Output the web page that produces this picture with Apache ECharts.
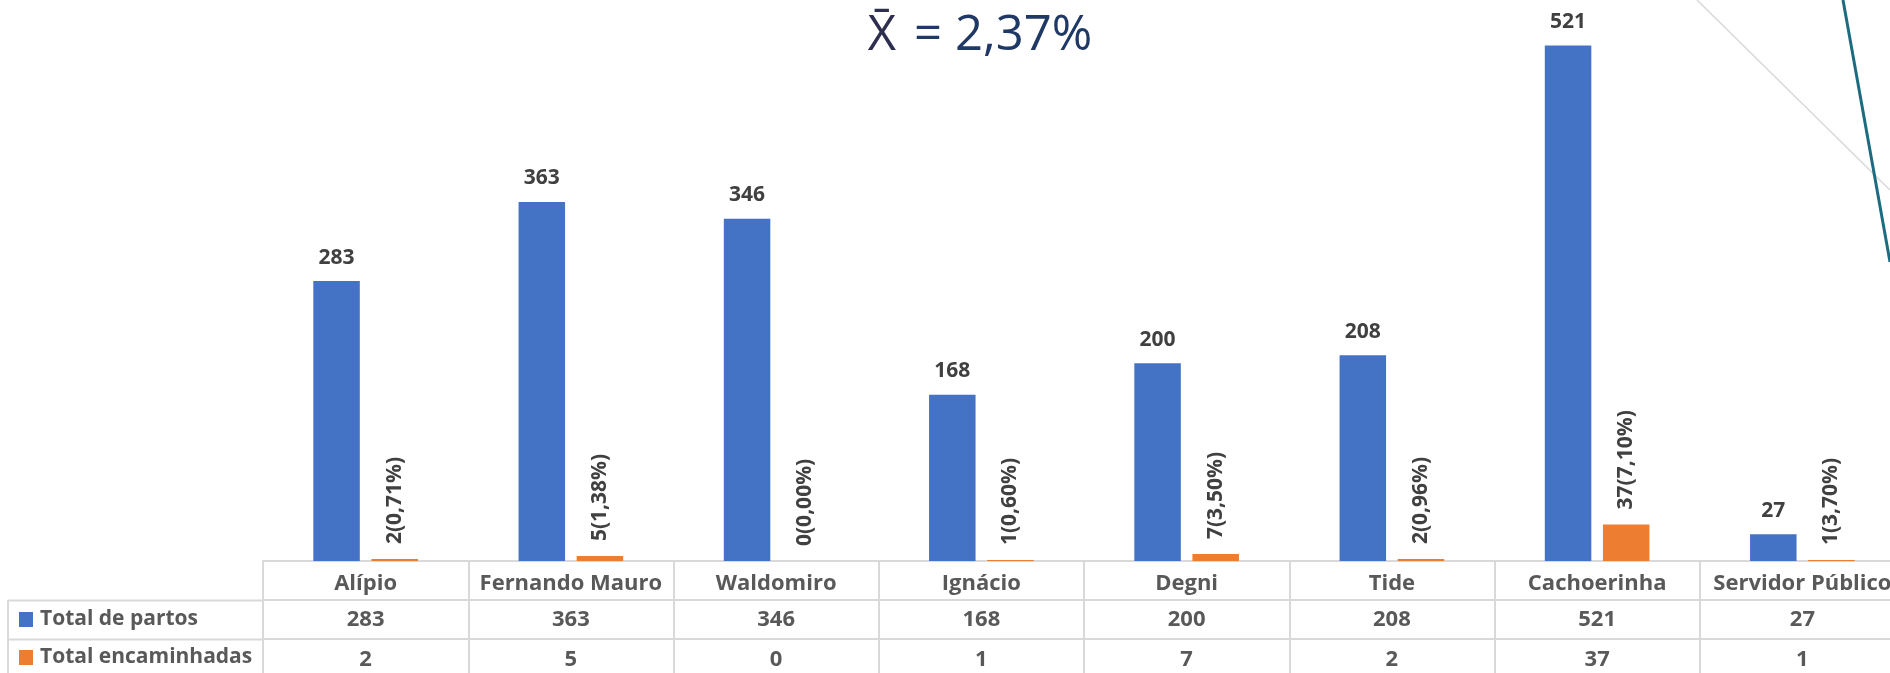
<!DOCTYPE html>
<html>
<head>
<meta charset="utf-8">
<script src="https://cdn.jsdelivr.net/npm/echarts@6/dist/echarts.min.js"></script>
<style>
html,body{margin:0;padding:0;background:#fff;overflow:hidden;width:1890px;height:673px;}
#main{width:1920px;height:673px;}
</style>
</head>
<body>
<div id="main"></div>
<script>
// ---- data ----
const categories = ['Alípio', 'Fernando Mauro', 'Waldomiro', 'Ignácio', 'Degni', 'Tide', 'Cachoerinha', 'Servidor Público'];
const totalPartos = [283, 363, 346, 168, 200, 208, 521, 27];
const totalEncaminhadas = [2, 5, 0, 1, 7, 2, 37, 1];
const percentEncaminhadas = ['0,71%', '1,38%', '0,00%', '0,60%', '3,50%', '0,96%', '7,10%', '3,70%'];
const seriesNames = ['Total de partos', 'Total encaminhadas'];
const meanText = '2,37%';

const FONT = '"Open Sans", "Liberation Sans", sans-serif';
const GRID_LINE = '#d9d9d9';
const TABLE_TEXT = '#595959';

const chart = echarts.init(document.getElementById('main'), null, {renderer: 'canvas'});

function rowAxis(offset, values, margin) {
  return {
    type: 'category',
    data: categories,
    position: 'bottom',
    offset: offset,
    axisLine: {show: true, lineStyle: {color: GRID_LINE, width: 2}},
    axisTick: {show: false},
    axisLabel: {
      interval: 0,
      margin: margin,
      fontFamily: FONT,
      fontSize: 22,
      fontWeight: 'bold',
      color: TABLE_TEXT,
      formatter: function (v, i) { return String(values[i]); }
    }
  };
}

function legendRow(name, top) {
  return {
    data: [name],
    orient: 'vertical',
    left: 19,
    top: top,
    padding: 0,
    icon: 'rect',
    itemWidth: 14,
    itemHeight: 15,
    selectedMode: false,
    textStyle: {fontFamily: FONT, fontSize: 21, fontWeight: 'bold', color: TABLE_TEXT, lineHeight: 21, padding: [0, 0, 0, 2]}
  };
}

const option = {
  backgroundColor: '#ffffff',
  animation: false,
  title: {
    text: '{m|X\u0304}{e|=}{t|' + meanText + '}',
    left: 975,
    top: 7,
    textAlign: 'center',
    textStyle: {
      rich: {
        m: {fontFamily: FONT, fontWeight: 'normal', fontSize: 49, color: '#2e2e50', padding: [0, 18, 0, 0]},
        e: {fontFamily: FONT, fontWeight: 'normal', fontSize: 49, color: '#1f3864', padding: [0, 13, 0, 0]},
        t: {fontFamily: FONT, fontWeight: 'normal', fontSize: 49, color: '#1f3864'}
      }
    }
  },
  legend: [legendRow(seriesNames[0], 609), legendRow(seriesNames[1], 647)],
  grid: {left: 263, width: 1642, top: 10, bottom: 112, containLabel: false},
  xAxis: [
    {
      type: 'category',
      data: categories,
      position: 'bottom',
      axisLine: {show: true, lineStyle: {color: GRID_LINE, width: 2}},
      axisTick: {show: true, length: 112, lineStyle: {color: GRID_LINE, width: 2}},
      axisLabel: {
        interval: 0,
        margin: 12,
        fontFamily: FONT,
        fontSize: 22,
        fontWeight: 'bold',
        color: TABLE_TEXT
      }
    },
    rowAxis(39, totalPartos, 9),
    rowAxis(78, totalEncaminhadas, 10)
  ],
  yAxis: {type: 'value', min: 0, max: 557, show: false, splitLine: {show: false}},
  series: [
    {
      name: seriesNames[0],
      type: 'bar',
      data: totalPartos,
      barWidth: 46.5,
      barGap: '25%',
      itemStyle: {color: '#4472c4'},
      label: {
        show: true,
        position: 'top',
        distance: 13,
        fontFamily: FONT,
        fontSize: 21,
        fontWeight: 'bold',
        color: '#404040'
      }
    },
    {
      name: seriesNames[1],
      type: 'bar',
      data: totalEncaminhadas,
      barWidth: 46.5,
      barGap: '25%',
      itemStyle: {color: '#ed7d31'},
      label: {
        show: true,
        position: 'top',
        distance: 15,
        rotate: 90,
        align: 'left',
        verticalAlign: 'middle',
        fontFamily: FONT,
        fontSize: 21,
        fontWeight: 'bold',
        color: '#404040',
        formatter: function (p) { return totalEncaminhadas[p.dataIndex] + '(' + percentEncaminhadas[p.dataIndex] + ')'; }
      }
    }
  ],
  graphic: [
    // left part of data table borders
    {type: 'line', shape: {x1: 8, y1: 600.5, x2: 263, y2: 600.5}, style: {stroke: GRID_LINE, lineWidth: 2}, silent: true},
    {type: 'line', shape: {x1: 8, y1: 639.5, x2: 263, y2: 639.5}, style: {stroke: GRID_LINE, lineWidth: 2}, silent: true},
    {type: 'line', shape: {x1: 8, y1: 600, x2: 8, y2: 673}, style: {stroke: GRID_LINE, lineWidth: 2}, silent: true},
    // decorative background lines at the top right
    {type: 'line', shape: {x1: 1697, y1: 0, x2: 1890, y2: 190}, style: {stroke: '#d9d9d9', lineWidth: 1.5}, silent: true, z: -1},
    {type: 'line', shape: {x1: 1843, y1: 0, x2: 1890, y2: 262}, style: {stroke: '#1d6b80', lineWidth: 3}, silent: true, z: -1}
  ]
};

chart.setOption(option);
</script>
</body>
</html>
